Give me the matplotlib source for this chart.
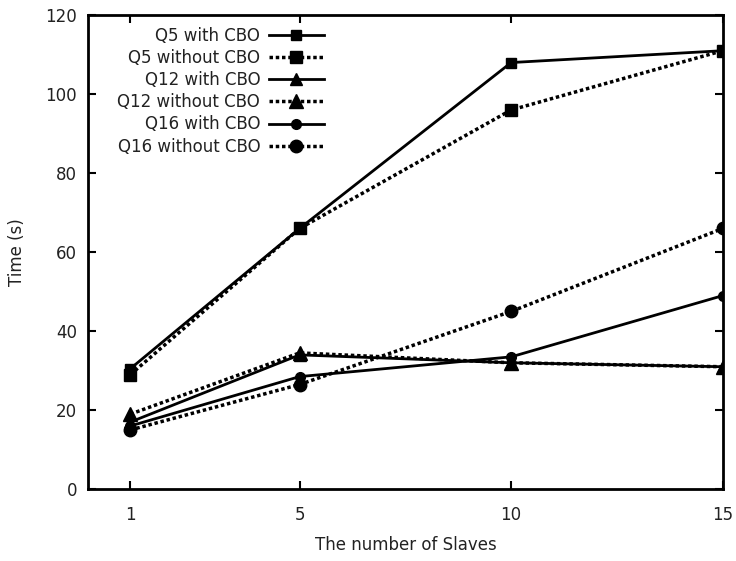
import matplotlib.pyplot as plt

slaves = [1, 5, 10, 15]

q5_cbo = [30.5, 66, 108, 111]
q5_no = [29, 66, 96, 111]
q12_cbo = [17, 34, 32, 31]
q12_no = [19, 34.5, 32, 31]
q16_cbo = [16, 28.5, 33.5, 49]
q16_no = [15, 26.5, 45, 66]

labels = ['Q5 with CBO', 'Q5 without CBO', 'Q12 with CBO',
          'Q12 without CBO', 'Q16 with CBO', 'Q16 without CBO']

dotted = (0, (1, 0.8))

fig = plt.figure(figsize=(7.36, 5.61), dpi=100)
ax = fig.add_axes([0.1196, 0.128, 0.8624, 0.845])

ax.plot(slaves, q5_cbo, color='black', lw=2, ls='-', marker='s', ms=7, label=labels[0])
ax.plot(slaves, q5_no, color='black', lw=2.5, ls=dotted, marker='s', ms=9, label=labels[1])
ax.plot(slaves, q12_cbo, color='black', lw=2, ls='-', marker='^', ms=8, label=labels[2])
ax.plot(slaves, q12_no, color='black', lw=2.5, ls=dotted, marker='^', ms=10, label=labels[3])
ax.plot(slaves, q16_cbo, color='black', lw=2, ls='-', marker='o', ms=7, label=labels[4])
ax.plot(slaves, q16_no, color='black', lw=2.5, ls=dotted, marker='o', ms=9, label=labels[5])

ax.set_xlim(0, 15)
ax.set_ylim(0, 120)
ax.set_xticks(slaves)
ax.set_yticks(range(0, 121, 20))
ax.tick_params(direction='in', top=True, right=True, length=6, width=1.5,
               labelsize=12, labelcolor='#222222')
ax.tick_params(axis='x', pad=12)
ax.tick_params(axis='y', pad=8)
for s in ax.spines.values():
    s.set_linewidth(2)

ax.set_xlabel('The number of Slaves', fontsize=12, labelpad=9, color='#222222')
ax.set_ylabel('Time (s)', fontsize=12, labelpad=14, color='#222222')

leg = ax.legend(loc='upper left', bbox_to_anchor=(0.028, 1.0), frameon=False,
                markerfirst=False, fontsize=12, handlelength=3.3,
                handletextpad=0.5, labelspacing=0.25, borderaxespad=0.3)
for t in leg.get_texts():
    t.set_color('#222222')

fig.savefig('out.png', dpi=100)
